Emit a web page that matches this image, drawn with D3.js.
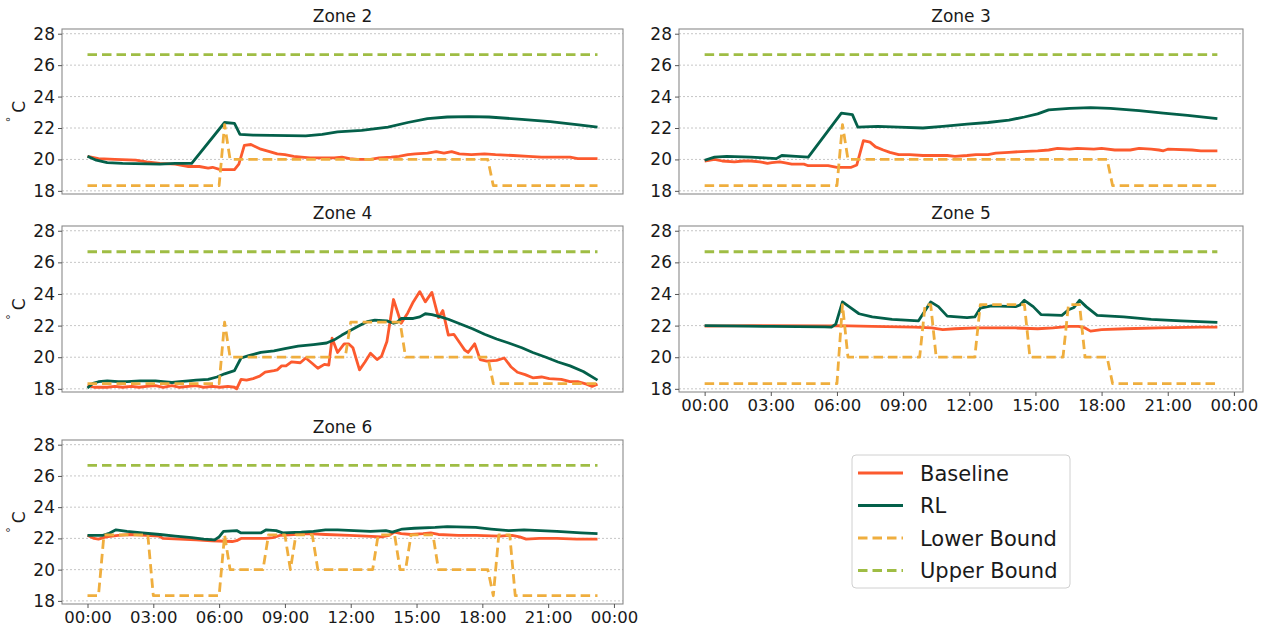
<!DOCTYPE html>
<html>
<head>
<meta charset="utf-8">
<script src="https://cdn.jsdelivr.net/npm/d3@7"></script>
<style>
  html, body { margin: 0; padding: 0; background: #fff; }
  svg { display: block; font-family: "DejaVu Sans", sans-serif; }
</style>
</head>
<body>
<svg id="chart" width="1267" height="631"></svg>
<script>
// ---- data: zone temperatures (°C) sampled as [hour of day, value] ----
const xTickHours = [0, 3, 6, 9, 12, 15, 18, 21, 24];
const xTickLabels = ["00:00", "03:00", "06:00", "09:00", "12:00", "15:00", "18:00", "21:00", "00:00"];
const yTicks = [18, 20, 22, 24, 26, 28];
const seriesNames = ["Baseline", "RL", "Lower Bound", "Upper Bound"];
const dayStart = 0, dayEnd = 23.25;

const upperBound = [[0, 26.67], [23.25, 26.67]];

const zone2Baseline = [[0,20.2],[0.5,20.05],[1.25,20.0],[2.2,19.95],[2.7,19.85],[3.3,19.75],[4.0,19.7],[4.6,19.55],[5.1,19.55],[5.5,19.45],[5.7,19.5],[6.05,19.35],[6.7,19.35],[6.9,19.7],[7.15,20.9],[7.45,20.95],[7.9,20.65],[8.3,20.5],[8.65,20.35],[9.0,20.3],[9.4,20.2],[9.75,20.15],[10.15,20.1],[10.7,20.1],[11.25,20.1],[11.6,20.15],[11.95,20.05],[12.3,20.0],[12.9,20.0],[13.3,20.1],[13.85,20.15],[14.2,20.2],[14.6,20.3],[14.95,20.35],[15.5,20.4],[15.9,20.5],[16.25,20.4],[16.6,20.5],[16.95,20.35],[17.5,20.3],[18.1,20.35],[18.6,20.3],[19.4,20.25],[20.1,20.2],[20.7,20.15],[22.0,20.15],[22.35,20.05],[23.25,20.05]];
const zone2RL = [[0,20.2],[0.4,19.95],[0.9,19.8],[1.6,19.75],[3.3,19.7],[4.0,19.75],[4.75,19.75],[6.25,22.35],[6.7,22.3],[6.95,21.6],[7.55,21.55],[9.95,21.5],[10.7,21.6],[11.4,21.75],[12.5,21.85],[13.7,22.05],[14.6,22.35],[15.5,22.6],[16.4,22.7],[17.4,22.73],[18.3,22.7],[19.8,22.55],[21.1,22.4],[22.4,22.2],[23.25,22.05]];
const zone2Lower = [[0,18.33],[6,18.33],[6.25,22.22],[6.5,20],[18.25,20],[18.5,18.33],[23.25,18.33]];

const zone3Baseline = [[0,19.9],[0.45,20.0],[0.8,19.9],[1.35,19.85],[1.75,19.9],[2.1,19.9],[2.5,19.85],[2.85,19.75],[3.05,19.8],[3.4,19.85],[3.6,19.8],[3.95,19.7],[4.5,19.7],[4.7,19.6],[5.6,19.6],[6.0,19.5],[6.65,19.5],[6.9,19.65],[7.2,21.2],[7.5,21.1],[7.75,20.8],[8.1,20.6],[8.4,20.45],[8.8,20.3],[9.3,20.3],[9.9,20.25],[11.0,20.25],[11.35,20.2],[11.9,20.25],[12.3,20.3],[12.85,20.3],[13.2,20.4],[13.8,20.45],[14.35,20.5],[15.1,20.55],[15.6,20.6],[16.0,20.7],[16.55,20.65],[16.9,20.7],[17.65,20.65],[18.0,20.7],[18.6,20.6],[19.3,20.6],[19.7,20.7],[20.25,20.65],[20.6,20.6],[20.8,20.55],[21.0,20.65],[22.1,20.6],[22.5,20.55],[23.25,20.55]];
const zone3RL = [[0,19.95],[0.45,20.15],[1.0,20.2],[2.1,20.15],[2.7,20.1],[3.25,20.05],[3.5,20.25],[4.15,20.2],[4.7,20.15],[6.2,22.95],[6.7,22.85],[6.95,22.05],[7.85,22.1],[8.8,22.05],[9.9,22.0],[10.8,22.1],[11.9,22.25],[12.85,22.35],[13.8,22.5],[14.5,22.7],[15.1,22.9],[15.6,23.15],[16.55,23.25],[17.5,23.3],[18.4,23.25],[19.7,23.1],[20.8,22.95],[21.9,22.8],[23.25,22.6]];
const zone3Lower = [[0,18.33],[6,18.33],[6.25,22.22],[6.5,20],[18.25,20],[18.5,18.33],[23.25,18.33]];

const zone4Baseline = [[0,18.2],[0.3,18.1],[0.9,18.1],[1.25,18.15],[1.6,18.1],[2.0,18.15],[2.35,18.1],[2.7,18.15],[3.1,18.2],[3.45,18.1],[3.85,18.2],[4.2,18.1],[4.6,18.15],[4.95,18.2],[5.3,18.1],[5.7,18.15],[6.05,18.1],[6.4,18.15],[6.7,18.1],[6.8,18.0],[7.0,18.6],[7.25,18.55],[7.55,18.65],[7.85,18.8],[8.1,19.05],[8.5,19.15],[8.65,19.2],[8.85,19.45],[9.05,19.45],[9.3,19.7],[9.7,19.65],[9.95,19.95],[10.25,19.6],[10.5,19.3],[10.8,19.55],[11.0,19.5],[11.15,21.2],[11.4,20.3],[11.7,20.85],[11.9,20.85],[12.1,20.6],[12.4,19.2],[12.65,19.7],[12.9,20.25],[13.2,19.85],[13.4,20.05],[13.65,21.0],[13.95,23.65],[14.3,22.15],[14.6,22.8],[14.85,23.5],[15.15,24.15],[15.4,23.5],[15.7,24.1],[16.0,22.5],[16.2,22.95],[16.45,21.4],[16.7,21.45],[17.0,20.85],[17.2,20.45],[17.35,20.3],[17.65,20.85],[17.9,19.85],[18.2,19.75],[18.65,19.8],[19.0,19.95],[19.3,19.4],[19.6,19.05],[19.95,18.9],[20.3,18.7],[20.7,18.75],[21.05,18.65],[21.6,18.6],[22.0,18.45],[22.35,18.45],[22.75,18.3],[23.0,18.15],[23.25,18.3]];
const zone4RL = [[0,18.05],[0.25,18.35],[0.5,18.45],[0.9,18.5],[1.4,18.45],[1.8,18.45],[2.4,18.5],[3.1,18.5],[3.45,18.45],[3.85,18.4],[4.2,18.45],[4.6,18.5],[4.95,18.55],[5.5,18.6],[5.9,18.75],[6.25,18.95],[6.7,19.15],[7.0,19.95],[7.35,20.1],[7.9,20.3],[8.5,20.4],[9.0,20.55],[9.6,20.7],[10.3,20.8],[10.9,20.9],[11.25,21.1],[11.6,21.4],[12.0,21.7],[12.4,22.0],[12.75,22.25],[13.1,22.35],[13.65,22.3],[13.95,22.15],[14.1,22.2],[14.3,22.45],[14.85,22.45],[15.15,22.55],[15.4,22.75],[15.7,22.7],[16.1,22.55],[16.45,22.4],[17.0,22.1],[17.55,21.8],[18.1,21.45],[18.65,21.15],[19.2,20.9],[19.8,20.6],[20.3,20.3],[20.9,20.0],[21.45,19.7],[22.0,19.45],[22.6,19.1],[23.25,18.55]];
const zone4Lower = [[0,18.33],[6,18.33],[6.25,22.22],[6.5,20],[11.75,20],[12,22.22],[14.25,22.22],[14.5,20],[18.25,20],[18.5,18.33],[23.25,18.33]];

const zone5Baseline = [[0,21.97],[2.1,22.0],[5.65,21.98],[6.0,22.0],[7.6,21.95],[9.5,21.9],[10.3,21.85],[10.8,21.75],[11.35,21.8],[12.3,21.85],[14.1,21.85],[15.1,21.8],[15.8,21.85],[16.55,21.95],[16.95,21.95],[17.25,21.85],[17.5,21.65],[18.0,21.75],[19.1,21.8],[20.6,21.85],[22.5,21.9],[23.25,21.9]];
const zone5RL = [[0,22.0],[1.0,21.98],[3.0,21.95],[5.45,21.92],[5.75,21.9],[5.95,22.1],[6.25,23.5],[6.55,23.2],[7.0,22.75],[7.6,22.55],[8.5,22.4],[9.7,22.3],[10.25,23.5],[10.6,23.2],[11.0,22.6],[11.9,22.5],[12.25,22.55],[12.5,23.1],[13.0,23.25],[14.1,23.2],[14.3,23.3],[14.5,23.6],[14.9,23.2],[15.25,22.7],[16.2,22.65],[16.5,23.0],[16.75,23.15],[17.0,23.6],[17.3,23.2],[17.8,22.65],[19.0,22.55],[20.25,22.4],[21.6,22.3],[23.25,22.2]];
const zone5Lower = [[0,18.33],[6,18.33],[6.25,23.33],[6.5,20],[9.75,20],[10,23.33],[10.25,23.33],[10.5,20],[12.25,20],[12.5,23.33],[14.5,23.33],[14.75,20],[16.25,20],[16.5,23.33],[17,23.33],[17.25,20],[18.25,20],[18.5,18.33],[23.25,18.33]];

const zone6Baseline = [[0,22.2],[0.3,22.0],[0.5,21.95],[0.85,22.1],[1.4,22.2],[1.95,22.25],[2.7,22.2],[3.25,22.15],[3.45,22.0],[4.2,21.95],[4.95,21.9],[5.65,21.85],[6.6,21.8],[6.8,21.85],[7.0,22.0],[8.1,22.0],[8.45,22.05],[8.8,22.2],[9.4,22.25],[10.1,22.3],[10.85,22.25],[11.95,22.2],[12.7,22.15],[13.4,22.1],[13.75,22.2],[14.0,22.4],[14.3,22.3],[14.75,22.25],[15.3,22.3],[15.65,22.35],[16.0,22.25],[16.9,22.2],[17.7,22.2],[18.8,22.15],[19.35,22.2],[19.7,22.1],[20.0,21.95],[20.6,22.0],[21.4,22.0],[22.3,21.95],[23.25,21.95]];
const zone6RL = [[0,22.2],[0.7,22.2],[0.95,22.3],[1.3,22.55],[1.8,22.45],[2.5,22.35],[3.3,22.25],[4.0,22.15],[4.75,22.05],[5.3,21.95],[5.8,21.9],[6.0,22.1],[6.2,22.45],[6.8,22.5],[7.0,22.35],[7.9,22.35],[8.15,22.55],[8.6,22.5],[8.9,22.35],[9.75,22.4],[10.3,22.45],[10.85,22.55],[11.4,22.55],[12.15,22.5],[12.9,22.45],[13.6,22.5],[13.9,22.4],[14.35,22.6],[14.9,22.65],[15.85,22.7],[16.4,22.75],[17.7,22.7],[18.4,22.6],[19.2,22.5],[19.9,22.55],[21.4,22.45],[22.5,22.35],[23.25,22.3]];
const zone6Lower = [[0,18.33],[0.5,18.33],[0.75,22.22],[2.75,22.22],[3,18.33],[6,18.33],[6.25,22.22],[6.5,20],[8,20],[8.25,22.22],[9,22.22],[9.25,20],[9.5,22.22],[10.25,22.22],[10.5,20],[13,20],[13.25,22.22],[14,22.22],[14.25,20],[14.5,20],[14.75,22.22],[15.75,22.22],[16,20],[18.25,20],[18.5,18.33],[18.75,22.22],[19.25,22.22],[19.5,18.33],[23.25,18.33]];

// ---- styling and layout ----
const colors = { "Baseline": "#fc5a2e", "RL": "#04604a", "Lower Bound": "#efae3e", "Upper Bound": "#9fbd44" };
const dashed = { "Lower Bound": "9.5,5", "Upper Bound": "9.5,5" };

const panels = [
  { title: "Zone 2", left: 62,  top: 29,  width: 561, height: 165, series: [zone2Baseline, zone2RL, zone2Lower, upperBound], yLabel: true,  xAxis: false },
  { title: "Zone 3", left: 679, top: 29,  width: 564, height: 165, series: [zone3Baseline, zone3RL, zone3Lower, upperBound], yLabel: false, xAxis: false },
  { title: "Zone 4", left: 62,  top: 226, width: 561, height: 166, series: [zone4Baseline, zone4RL, zone4Lower, upperBound], yLabel: true,  xAxis: false },
  { title: "Zone 5", left: 679, top: 226, width: 564, height: 166, series: [zone5Baseline, zone5RL, zone5Lower, upperBound], yLabel: false, xAxis: true },
  { title: "Zone 6", left: 62,  top: 440, width: 561, height: 164, series: [zone6Baseline, zone6RL, zone6Lower, upperBound], yLabel: true,  xAxis: true }
];

const svg = d3.select("#chart");
svg.append("rect").attr("width", 1267).attr("height", 631).attr("fill", "#fff");

// x range padded by 5% of the data span on each side
const span = dayEnd - dayStart;
const xDomain = [dayStart - 0.05 * span, dayEnd + 0.05 * span];
const yDomain = [17.8, 28.3];

panels.forEach((p, i) => {
  const g = svg.append("g").attr("transform", `translate(${p.left},${p.top})`);
  const x = d3.scaleLinear().domain(xDomain).range([0, p.width]);
  const y = d3.scaleLinear().domain(yDomain).range([p.height, 0]);

  const clipId = "clip" + i;
  g.append("clipPath").attr("id", clipId)
    .append("rect").attr("width", p.width).attr("height", p.height);

  // horizontal grid
  g.append("g").selectAll("line").data(yTicks).join("line")
    .attr("x1", 0).attr("x2", p.width)
    .attr("y1", d => y(d)).attr("y2", d => y(d))
    .attr("stroke", "#b8b8b8").attr("stroke-width", 0.8)
    .attr("stroke-dasharray", "2,2");

  // series lines
  const line = d3.line().x(d => x(d[0])).y(d => y(d[1]));
  const lines = g.append("g").attr("clip-path", `url(#${clipId})`);
  p.series.forEach((data, k) => {
    const name = seriesNames[k];
    lines.append("path")
      .datum(data)
      .attr("d", line)
      .attr("fill", "none")
      .attr("stroke", colors[name])
      .attr("stroke-width", 2.8)
      .attr("stroke-linejoin", "round")
      .attr("stroke-dasharray", dashed[name] || null);
  });

  // frame
  g.append("rect").attr("width", p.width).attr("height", p.height)
    .attr("fill", "none").attr("stroke", "#8a8a8a").attr("stroke-width", 1.1);

  // y axis
  const yAxis = g.append("g").call(
    d3.axisLeft(y).tickValues(yTicks).tickSize(4).tickPadding(3).tickFormat(d3.format("d"))
  );
  yAxis.select(".domain").remove();
  yAxis.selectAll(".tick line").attr("stroke", "#555");
  yAxis.selectAll(".tick text").attr("font-size", 17).attr("fill", "#1a1a1a")
    .attr("font-family", "DejaVu Sans, sans-serif");

  // x axis on the bottom panel of each column
  if (p.xAxis) {
    const xAxis = g.append("g").attr("transform", `translate(0,${p.height})`).call(
      d3.axisBottom(x).tickValues(xTickHours).tickSize(4).tickPadding(3)
        .tickFormat((d, j) => xTickLabels[j])
    );
    xAxis.select(".domain").remove();
    xAxis.selectAll(".tick line").attr("stroke", "#555");
    xAxis.selectAll(".tick text").attr("font-size", 16.5).attr("fill", "#1a1a1a")
      .attr("font-family", "DejaVu Sans, sans-serif");
  }

  // title
  g.append("text")
    .attr("x", p.width / 2).attr("y", -7)
    .attr("text-anchor", "middle")
    .attr("font-size", 17).attr("fill", "#1a1a1a")
    .text(p.title);

  // y label
  if (p.yLabel) {
    const t = g.append("text")
      .attr("transform", `translate(${-41},${p.height / 2}) rotate(-90)`)
      .attr("text-anchor", "middle")
      .attr("fill", "#1a1a1a");
    t.append("tspan").attr("font-size", 11).attr("dy", "-0.6em").text("°");
    t.append("tspan").attr("font-size", 17).attr("dx", 4).attr("dy", "0.6em").text("C");
  }
});

// legend
const legend = svg.append("g").attr("transform", "translate(852,455)");
legend.append("rect")
  .attr("width", 218).attr("height", 133).attr("rx", 4)
  .attr("fill", "#fff").attr("stroke", "#d0d0d0").attr("stroke-width", 1);
seriesNames.forEach((name, k) => {
  const yy = 18 + k * 32.5;
  legend.append("line")
    .attr("x1", 6).attr("x2", 51).attr("y1", yy).attr("y2", yy)
    .attr("stroke", colors[name]).attr("stroke-width", 2.8)
    .attr("stroke-dasharray", dashed[name] || null);
  legend.append("text")
    .attr("x", 68).attr("y", yy).attr("dy", "0.36em")
    .attr("font-size", 21).attr("fill", "#1a1a1a")
    .text(name);
});
</script>
</body>
</html>
